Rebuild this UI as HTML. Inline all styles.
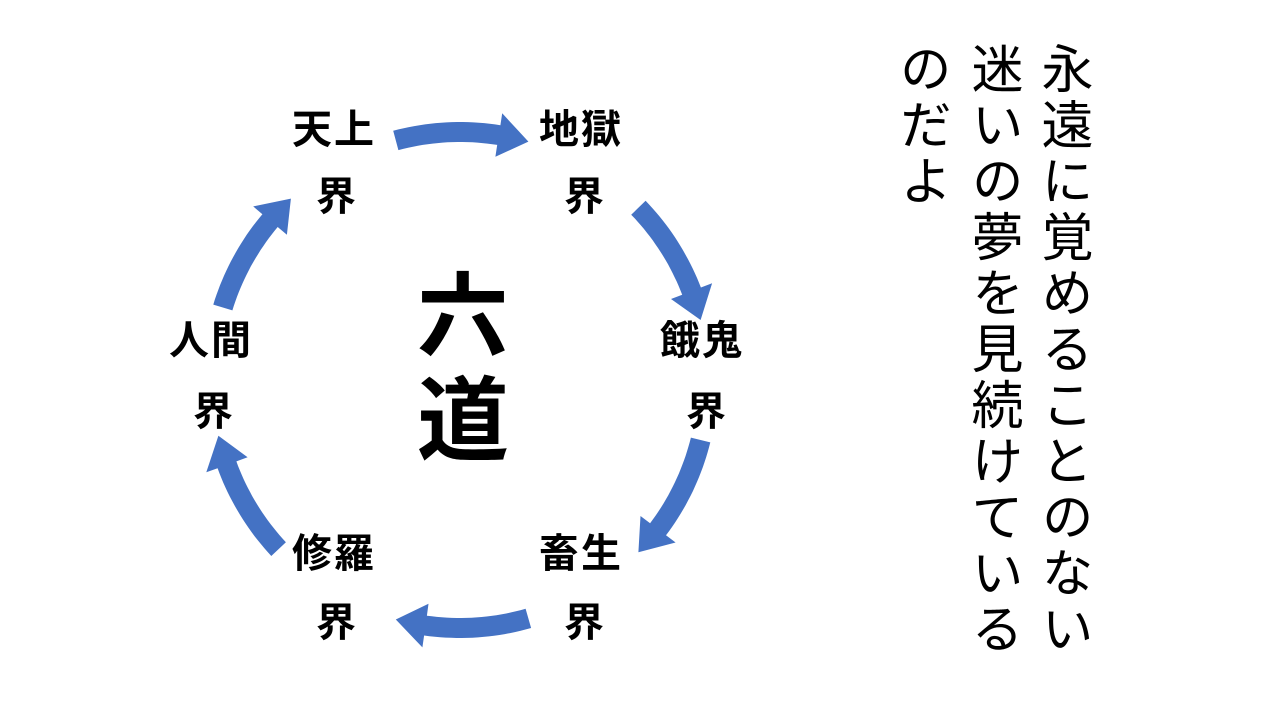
<!DOCTYPE html>
<html><head><meta charset="utf-8"><style>
html,body{margin:0;padding:0;background:#fff;}
#c{position:relative;width:1280px;height:720px;overflow:hidden;background:#fff;font-family:"Liberation Sans","Noto Sans CJK JP",sans-serif;}
.l{position:absolute;font-size:40px;font-weight:bold;line-height:1;color:#000;white-space:nowrap;letter-spacing:2px;}
.big{position:absolute;font-size:92px;font-weight:bold;line-height:1;}
.v{position:absolute;top:42px;writing-mode:vertical-rl;font-size:52px;line-height:1;letter-spacing:4px;color:#000;font-family:"Noto Sans CJK JP",sans-serif;}
</style></head><body><div id="c">
<svg id="s" width="1280" height="720" style="position:absolute;left:0;top:0"></svg>
<div class="l" style="left:292px;top:110px">天上</div><div class="l" style="left:316px;top:177px">界</div>
<div class="l" style="left:539px;top:110px">地獄</div><div class="l" style="left:564px;top:177px">界</div>
<div class="l" style="left:660px;top:321px">餓鬼</div><div class="l" style="left:686px;top:392px">界</div>
<div class="l" style="left:169px;top:321px">人間</div><div class="l" style="left:193px;top:392px">界</div>
<div class="l" style="left:292px;top:534px">修羅</div><div class="l" style="left:316px;top:603px">界</div>
<div class="l" style="left:539px;top:534px">畜生</div><div class="l" style="left:564px;top:603px">界</div>
<div class="big" style="left:417px;top:272px">六</div>
<div class="big" style="left:417px;top:376px">道</div>
<div class="v" style="left:1041px">永遠に覚めることのない</div>
<div class="v" style="left:971px">迷いの夢を見続けている</div>
<div class="v" style="left:899px">のだよ</div>
</div>
<script>
var cx=460,cy=380,r=248,w=10,hw=22,hl=7;
var segs=[[-15,16],[46,76],[104,134],[164,195],[227,257],[287,317]];
function p(a,rr){a=a*Math.PI/180;return [cx+rr*Math.sin(a),cy-rr*Math.cos(a)];}
var out='';
segs.forEach(function(s){
 var a0=s[0],a1=s[1],ab=a1-hl,pts=[],i,n=20;
 for(i=0;i<=n;i++)pts.push(p(a0+(ab-a0)*i/n,r+w));
 pts.push(p(ab,r+hw));pts.push(p(a1,r));pts.push(p(ab,r-hw));
 for(i=n;i>=0;i--)pts.push(p(a0+(ab-a0)*i/n,r-w));
 out+='<polygon fill="#4472C4" points="'+pts.map(function(q){return q[0].toFixed(1)+','+q[1].toFixed(1)}).join(' ')+'"/>';
});
document.getElementById('s').innerHTML=out;
</script>
</body></html>
